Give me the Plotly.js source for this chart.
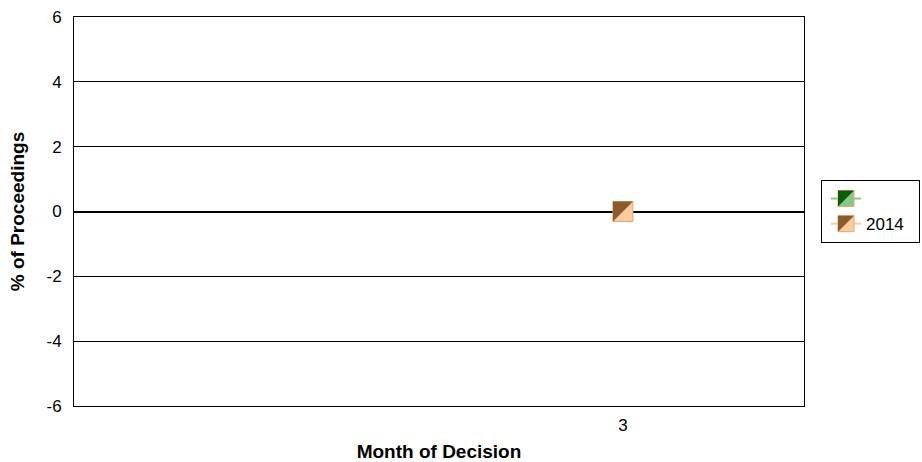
<!DOCTYPE html>
<html><head><meta charset="utf-8">
<script src="https://cdn.plot.ly/plotly-3.0.1.min.js"></script>
<style>html,body{margin:0;padding:0;background:#fff}</style>
</head><body>
<div id="chart" style="width:922px;height:462px"></div>
<script>
// Data
const months = [3];
const seriesNames = ["", "2014"];
const valuesBlank = [null];
const values2014 = [0];
const yTicks = [-6, -4, -2, 0, 2, 4, 6];
const yTickText = ["-6", "-4", "-2", "0", "2", "4", "6"];

const darkColors = ["#0a5c0a", "#8c5a2c"];
const lightColors = ["#86c986", "#f8cc9c"];
const lineColors = ["#86c986", "#f8cc9c"];
const seriesValues = [valuesBlank, values2014];

const traces = [];
const triIdx = [];
seriesValues.forEach((vals, i) => {
  traces.push({
    type: "scatter", mode: "lines+markers", x: months, y: vals, name: seriesNames[i],
    legendgroup: "g" + i,
    line: {color: lineColors[i], width: 2},
    marker: {symbol: "square", size: 20, color: lightColors[i], line: {color: "#e0a878", width: 1}},
    cliponaxis: false
  });
});
seriesValues.forEach((vals, i) => {
  triIdx.push(traces.length);
  traces.push({
    type: "scatter", mode: "markers", x: months, y: vals, name: seriesNames[i],
    legendgroup: "g" + i, showlegend: false, hoverinfo: "skip",
    marker: {symbol: "triangle-nw", size: 22.2, color: darkColors[i], line: {width: 0}},
    cliponaxis: false
  });
});

const layout = {
  width: 922, height: 462,
  margin: {l: 74, r: 118, t: 17, b: 56},
  paper_bgcolor: "#fff", plot_bgcolor: "#fff",
  font: {family: "Liberation Sans, Arial, sans-serif", size: 17, color: "#000"},
  showlegend: true,
  legend: {x: 1.0233, xanchor: "left", y: 0.5, yanchor: "middle", bordercolor: "#000", borderwidth: 1,
           font: {size: 17}, tracegroupgap: 0, itemsizing: "trace"},
  xaxis: {type: "linear", range: [1.484, 3.5], tickvals: months, ticktext: months.map(String),
          showgrid: false, zeroline: false, showline: true, mirror: true, linecolor: "#000", linewidth: 1,
          ticks: "", ticklen: 0, ticklabelstandoff: 4, automargin: false,
          title: {text: "<b>Month of Decision</b>", font: {size: 19}, standoff: 14}},
  yaxis: {range: [-6, 6], tickvals: yTicks, ticktext: yTickText, showgrid: true, gridcolor: "#000", gridwidth: 1,
          zeroline: true, zerolinecolor: "#000", zerolinewidth: 2, automargin: false,
          showline: true, mirror: true, linecolor: "#000", linewidth: 1, ticks: "", ticklen: 0, ticklabelstandoff: 8,
          title: {text: "<b>% of Proceedings</b>", font: {size: 19}, standoff: 16}}
};

Plotly.newPlot("chart", traces, layout, {displayModeBar: false, staticPlot: true}).then(gd => {
  // shift the triangle glyphs so they fill the top-left half of each square marker
  const layers = gd.querySelectorAll(".scatterlayer .trace");
  triIdx.forEach(ti => {
    const t = layers[ti];
    if (!t) return;
    t.querySelectorAll("path.point").forEach(p => {
      const tr = p.getAttribute("transform") || "";
      p.setAttribute("transform", tr + " translate(-3.33,-3.33)");
    });
  });
  // legend: add the dark half to each legend square, pad the box
  gd.querySelectorAll(".legend .traces").forEach((g, i) => {
    const tr = g.getAttribute("transform") || "";
    g.setAttribute("transform", tr + " translate(4,0)");
    const pt = g.querySelector(".legendpoints path.scatterpts");
    if (!pt) return;
    const half = 8;
    const tri = pt.cloneNode(false);
    tri.setAttribute("d", `M-${half},-${half}H${half}L-${half},${half}Z`);
    tri.style.fill = darkColors[i];
    tri.style.stroke = "none";
    pt.parentNode.appendChild(tri);
  });
  const bg = gd.querySelector(".legend rect.bg");
  if (bg) bg.setAttribute("width", 98);
  const clip = gd.querySelector(".legend .scrollbox");
  const lc = gd.querySelector("clipPath[id^='legend'] rect");
  if (lc) lc.setAttribute("width", 98);
});
</script>
</body></html>
